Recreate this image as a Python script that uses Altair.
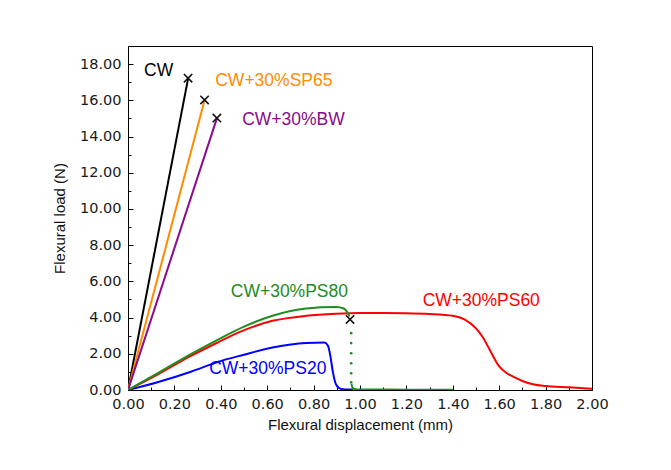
import altair as alt
import pandas as pd

# ---------------- data ----------------
series_names = ["CW", "CW+30%SP65", "CW+30%BW", "CW+30%PS80", "CW+30%PS60", "CW+30%PS20"]
series_colors = ["#000000", "#FF8C00", "#8B0A8B", "#1E8C1E", "#FF0000", "#0000FF"]

cw_x = [0, 0.259]
cw_y = [0, 17.2]

sp65_x = [0, 0.33]
sp65_y = [0, 16.0]

bw_x = [0, 0.383]
bw_y = [0, 15.0]

ps80_x = [0, 0.127, 0.271, 0.386, 0.5, 0.623, 0.768, 0.897, 0.93, 0.945, 0.955]
ps80_y = [0, 0.92, 1.98, 2.77, 3.5, 4.1, 4.5, 4.58, 4.5, 4.3, 4.05]
ps80_tail_x = [0.963, 0.967, 0.975, 1.0, 1.2, 1.4]
ps80_tail_y = [0.35, 0.15, 0.06, 0.03, 0.02, 0.02]
ps80_dot_x = [0.962, 0.962, 0.962, 0.962, 0.962, 0.962]
ps80_dot_y = [3.14, 2.59, 2.03, 1.48, 0.92, 0.43]

ps60_x = [0, 0.127, 0.271, 0.386, 0.48, 0.623, 0.768, 0.897, 1.0, 1.1, 1.2, 1.3, 1.4,
          1.45, 1.5, 1.53, 1.56, 1.6, 1.63, 1.66, 1.7, 1.75, 1.8, 1.9, 2.0]
ps60_y = [0, 0.85, 1.88, 2.62, 3.2, 3.82, 4.1, 4.21, 4.25, 4.25, 4.24, 4.2, 4.1,
          3.9, 3.4, 2.9, 2.2, 1.3, 0.95, 0.74, 0.5, 0.3, 0.22, 0.15, 0.07]

ps20_x = [0, 0.127, 0.271, 0.386, 0.5, 0.623, 0.768, 0.847, 0.862, 0.872, 0.883, 0.897, 0.918, 0.95, 0.97]
ps20_y = [0, 0.43, 1.01, 1.55, 1.95, 2.35, 2.6, 2.62, 2.45, 1.9, 1.0, 0.3, 0.06, 0.03, 0.03]

# fracture markers (x)
mark_series = ["CW", "CW+30%SP65", "CW+30%BW", "CW+30%PS80"]
mark_x = [0.259, 0.33, 0.383, 0.957]
mark_y = [17.22, 16.02, 15.02, 3.9]

# curve labels
label_text = ["CW", "CW+30%SP65", "CW+30%BW", "CW+30%PS80", "CW+30%PS60", "CW+30%PS20"]
label_x = [0.069, 0.376, 0.492, 0.443, 1.27, 0.35]
label_y = [17.6, 17.05, 14.9, 5.44, 4.94, 1.15]

x_ticks = [0, 0.2, 0.4, 0.6, 0.8, 1.0, 1.2, 1.4, 1.6, 1.8, 2.0]
y_ticks = [0, 2, 4, 6, 8, 10, 12, 14, 16, 18]
x_minor = [0.1, 0.3, 0.5, 0.7, 0.9, 1.1, 1.3, 1.5, 1.7, 1.9]
y_minor = [1, 3, 5, 7, 9, 11, 13, 15, 17]

# ---------------- build tables ----------------
rows = []
def add(name, seg, xs, ys):
    for i, (a, b) in enumerate(zip(xs, ys)):
        rows.append({"series": name, "seg": seg, "i": i, "x": a, "y": b})

add("CW", "cw", cw_x, cw_y)
add("CW+30%SP65", "sp65", sp65_x, sp65_y)
add("CW+30%BW", "bw", bw_x, bw_y)
add("CW+30%PS20", "ps20", ps20_x, ps20_y)
add("CW+30%PS60", "ps60", ps60_x, ps60_y)
add("CW+30%PS80", "ps80a", ps80_x, ps80_y)
add("CW+30%PS80", "ps80b", ps80_tail_x, ps80_tail_y)
lines_df = pd.DataFrame(rows)

dots_df = pd.DataFrame({"x": ps80_dot_x, "y": ps80_dot_y})
marks_df = pd.DataFrame({"series": mark_series, "x": mark_x, "y": mark_y})
labels_df = pd.DataFrame({"series": label_text, "x": label_x, "y": label_y})

W, H = 464, 344
xs = alt.Scale(domain=[0, 2], nice=False, zero=False)
ys = alt.Scale(domain=[0, 19], nice=False, zero=False)
cs = alt.Scale(domain=series_names, range=series_colors)

x_axis = alt.Axis(values=x_ticks, format=".2f", title="Flexural displacement (mm)",
                  ticks=False, tickSize=0, labelPadding=7, labelFlush=False, grid=False,
                  domainColor="black", domainWidth=1,
                  labelFont="DejaVu Sans", labelFontSize=14.5, labelColor="#1a1a1a",
                  titleFont="Liberation Sans", titleFontSize=15, titleFontWeight="normal",
                  titleColor="#111111", titlePadding=7)
y_axis = alt.Axis(values=y_ticks, format=".2f", title="Flexural load (N)",
                  ticks=False, tickSize=0, labelPadding=7, labelFlush=False, grid=False,
                  domainColor="black", domainWidth=1,
                  labelFont="DejaVu Sans", labelFontSize=14.5, labelColor="#1a1a1a",
                  titleFont="Liberation Sans", titleFontSize=15, titleFontWeight="normal",
                  titleColor="#111111", titlePadding=12)

lines = alt.Chart(lines_df).mark_line(
    strokeWidth=2, strokeJoin="round", interpolate="monotone", clip=True
).encode(
    x=alt.X("x:Q", scale=xs, axis=x_axis),
    y=alt.Y("y:Q", scale=ys, axis=y_axis),
    color=alt.Color("series:N", scale=cs, legend=None),
    detail="seg:N",
    order="i:Q",
)

dots = alt.Chart(dots_df).mark_circle(size=7, color="#1E8C1E", opacity=1).encode(
    x=alt.X("x:Q", scale=xs, axis=None),
    y=alt.Y("y:Q", scale=ys, axis=None),
)

xmarks = alt.Chart(marks_df).mark_point(
    shape="M-1,-1L1,1M-1,1L1,-1", size=70, strokeWidth=1.6, color="#111111", filled=False, opacity=1
).encode(
    x=alt.X("x:Q", scale=xs, axis=None),
    y=alt.Y("y:Q", scale=ys, axis=None),
)

labels = alt.Chart(labels_df).mark_text(
    align="left", baseline="middle", font="Liberation Sans", fontSize=17.5
).encode(
    x=alt.X("x:Q", scale=xs, axis=None),
    y=alt.Y("y:Q", scale=ys, axis=None),
    text="series:N",
    color=alt.Color("series:N", scale=cs, legend=None),
)

# inward ticks: extra axes placed on the plot's bottom and left edges
def xtick_layer(vals, size):
    return alt.Chart(marks_df).mark_point(opacity=0).encode(
        x=alt.X("x:Q", scale=xs, axis=alt.Axis(orient="top", offset=-H, values=vals, labels=False,
                                               domain=False, title="", tickSize=size,
                                               tickColor="black", tickWidth=1, grid=False)),
        y=alt.Y("y:Q", scale=ys, axis=None),
    )

def ytick_layer(vals, size):
    return alt.Chart(marks_df).mark_point(opacity=0).encode(
        x=alt.X("x:Q", scale=xs, axis=None),
        y=alt.Y("y:Q", scale=ys, axis=alt.Axis(orient="right", offset=-W, values=vals, labels=False,
                                               domain=False, title="", tickSize=size,
                                               tickColor="black", tickWidth=1, grid=False)),
    )

chart = alt.layer(
    lines, dots, xmarks, labels,
    xtick_layer(x_ticks, 5), xtick_layer(x_minor, 3),
    ytick_layer(y_ticks, 5), ytick_layer(y_minor, 3),
).resolve_axis(
    x="independent", y="independent"
).properties(
    width=W, height=H,
    padding={"left": 128, "top": 46, "right": 79, "bottom": 80},
    autosize=alt.AutoSizeParams(type="none"),
    background="white",
).configure_view(stroke="black", strokeWidth=1)

chart.save("out.html", embed_options={"renderer": "svg", "actions": False})
